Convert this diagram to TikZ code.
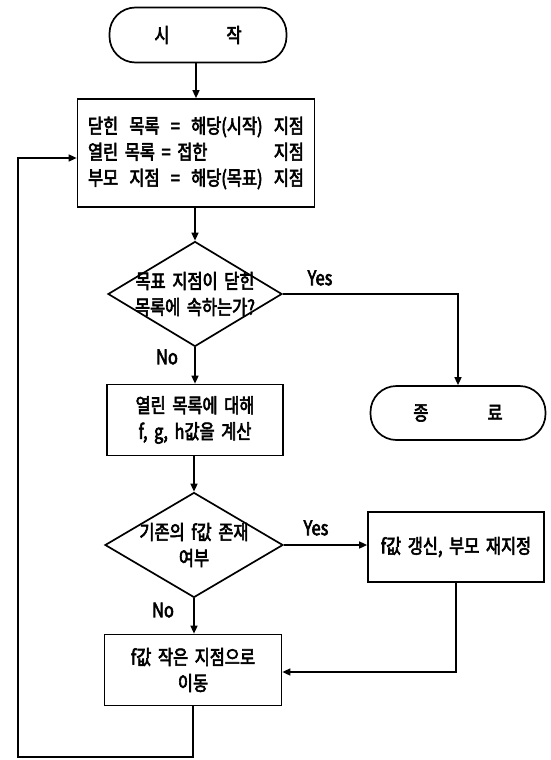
\documentclass[tikz,border=0pt]{standalone}
\usepackage{fontspec}
\setmainfont{Noto Sans CJK KR}[FakeStretch=0.82,FakeBold=3,WordSpace=1.8]
\usetikzlibrary{shapes.geometric,arrows.meta}
\begin{document}
\begin{tikzpicture}[x=1pt,y=-1pt,
  every node/.style={font=\fontsize{20}{26}\selectfont},
  box/.style={draw,line width=1.7pt,inner sep=0pt,align=center},
  term/.style={box,rounded corners=26pt},
  dia/.style={draw,diamond,line width=1.7pt,inner sep=0pt},
  conn/.style={line width=1.5pt,-{Triangle[length=8pt,width=7pt]}},
  lbl/.style={font=\fontsize{20}{22}\selectfont}]
\useasboundingbox (0,0) rectangle (550,760);
\node[term,minimum width=177pt,minimum height=55pt] (start) at (198,35) {시\hspace{57pt}작};
\node[box,minimum width=237pt,minimum height=108pt] (init) at (196,153)
  {\makebox[216pt][s]{닫힌 목록 = 해당(시작) 지점}\\
   \makebox[216pt][s]{열린 목록 = 접한\hfill 지점}\\
   \makebox[216pt][s]{부모 지점 = 해당(목표) 지점}};
\node[dia,minimum width=174pt,minimum height=105pt,
  label={[align=center]center:{목표 지점이 닫힌\\목록에 속하는가?}}] (goal) at (195,294) {};
\node[term,minimum width=175pt,minimum height=54pt] (end) at (458,413) {종\hspace{59pt}료};
\node[box,minimum width=176pt,minimum height=71pt] (calc) at (195,420) {열린 목록에 대해\\f, g, h값을 계산};
\node[dia,minimum width=178pt,minimum height=105pt,
  label={[align=center]center:{기존의 f값 존재\\여부}}] (exist) at (194,545) {};
\node[box,minimum width=176pt,minimum height=70pt] (upd) at (456,547) {f값 갱신, 부모 재지정};
\node[box,minimum width=177pt,minimum height=71pt] (move) at (193,670) {f값 작은 지점으로\\이동};
\coordinate (loopB) at (18,757);
\coordinate (loopT) at (18,158);
\node[lbl] (yes1) at (320,278) {Yes};
\node[lbl] (no1) at (167,357) {No};
\node[lbl] (yes2) at (316,528) {Yes};
\node[lbl] (no2) at (163,610) {No};
\draw[conn] (start.south -| init.north) -- (init.north);
\draw[conn] (init.south -| goal.north) -- (goal.north);
\draw[conn] (goal.east) -| (end.north);
\draw[conn] (goal.south) -- (calc.north);
\draw[conn] (calc.south -| exist.north) -- (exist.north);
\draw[conn] (exist.east) -- (exist.east -| upd.west);
\draw[conn] (upd.south) |- ([yshift=-2pt]move.east);
\draw[conn] (exist.south) -- (exist.south |- move.north);
\draw[conn] (move.south) -- (move.south |- loopB) -- (loopB) -- (loopT) -- (loopT -| init.west);
\end{tikzpicture}
\end{document}
